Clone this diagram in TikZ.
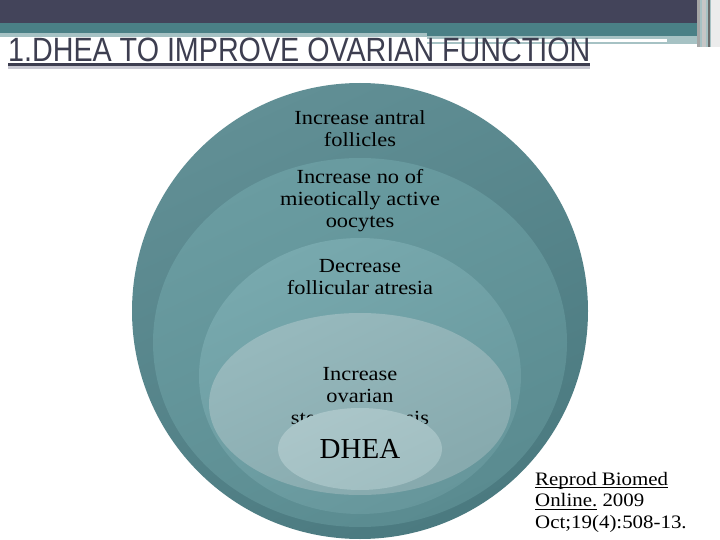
\documentclass[tikz,border=0pt]{standalone}
\usepackage{fontspec}
\setmainfont{Liberation Serif}
\newfontfamily\titlefont{Liberation Sans}
\newfontfamily\bodyfont[FakeStretch=1.12]{Liberation Serif}
\newfontfamily\citefont[FakeStretch=1.1]{Liberation Serif}
\usetikzlibrary{shapes.geometric}
\newcommand\myul[1]{\setbox0\hbox{#1}\rlap{\rule[-3pt]{\wd0}{0.9pt}}\box0\relax}
\definecolor{hdrdark}{HTML}{43445A}
\definecolor{hdrteal}{HTML}{4A8086}
\definecolor{hdrlight}{HTML}{A6C2C4}
\definecolor{titlecol}{HTML}{3D3E50}
\definecolor{shadowcol}{HTML}{C8C8D2}
\definecolor{ringA}{HTML}{618F95}
\definecolor{ringAb}{HTML}{4B7A80}
\definecolor{ringB}{HTML}{6A9CA1}
\definecolor{ringBb}{HTML}{5A8B90}
\definecolor{ringC}{HTML}{78A9AE}
\definecolor{ringCb}{HTML}{66969B}
\definecolor{ringD}{HTML}{97B9BD}
\definecolor{ringDb}{HTML}{86A9AD}
\definecolor{ringE}{HTML}{ABC6C9}
\definecolor{ringEb}{HTML}{A0BEC1}
\tikzset{
  ring/.style={ellipse, inner sep=0pt, draw=none, shading angle=25},
  lbl/.style={align=center, inner sep=0pt, text=black,
    font=\bodyfont\fontsize{20}{22}\selectfont},
}
\begin{document}
\begin{tikzpicture}[x=1pt,y=-1pt]
\useasboundingbox (0,0) rectangle (720,540);
\fill[white] (0,0) rectangle (720,540);
% header bands
\fill[hdrdark] (0,0) rectangle (720,23.5);
\fill[hdrteal] (0,23.5) rectangle (720,33.5);
\fill[hdrlight] (0,33.5) rectangle (427,37);
\fill[hdrteal] (427,33.5) rectangle (700,36.5);
\fill[hdrlight] (427,36.5) rectangle (700,44);
\fill[white] (427,39.3) rectangle (667,41.6);
% right stripes
\fill[hdrlight] (697,0) rectangle (720,47);
\fill[gray!70] (697,0) rectangle (700,47);
\fill[gray!45] (702,0) rectangle (706,47);
\fill[gray!85!black] (708,0) rectangle (709.5,47);
\fill[white!85!gray] (711,0) rectangle (720,47);
% title
\node[anchor=base west, inner sep=0pt, text=titlecol] (title) at (8,61.5)
  {\resizebox{582pt}{23.5pt}{\titlefont 1.DHEA TO IMPROVE OVARIAN FUNCTION}};
\fill[shadowcol] (8,66) rectangle (590,69);
\fill[titlecol] (8,63.5) rectangle (590,66.2);
% nested rings
\node[ring, minimum width=456pt, minimum height=456pt, top color=ringA, bottom color=ringAb, shading angle=25] (r1) at (360,311) {};
\node[ring, minimum width=414pt, minimum height=369pt, top color=ringB, bottom color=ringBb, shading angle=25] (r2) at (360,342.5) {};
\node[ring, minimum width=322pt, minimum height=276pt, top color=ringC, bottom color=ringCb, shading angle=25] (r3) at (360,376) {};
\node[ring, minimum width=302pt, minimum height=182pt, top color=ringD, bottom color=ringDb, shading angle=25] (r4) at (360,404) {};
% labels
\node[lbl] (t1) at (360,129) {Increase antral\\follicles};
\node[lbl] (t2) at (360,200.5) {Increase no of\\mieotically active\\oocytes};
\node[lbl] (t3) at (360,277) {Decrease\\follicular atresia};
\node[lbl] (t4) at (360,398.5) {Increase\\ovarian\\steroidogenesis};
% DHEA core
\node[ring, minimum width=164pt, minimum height=82pt, top color=ringE, bottom color=ringEb, shading angle=25] (r5) at (360,449) {};
\node[inner sep=0pt, font=\fontsize{29}{32}\selectfont] (dhea) at (r5.center) {DHEA};
% citation
\node[anchor=north west, align=left, inner sep=0pt,
  font=\citefont\fontsize{19}{21.5}\selectfont] (cite) at (535,472)
  {\myul{Reprod Biomed}\\\myul{Online.} 2009\\Oct;19(4):508-13.};
\end{tikzpicture}
\end{document}
